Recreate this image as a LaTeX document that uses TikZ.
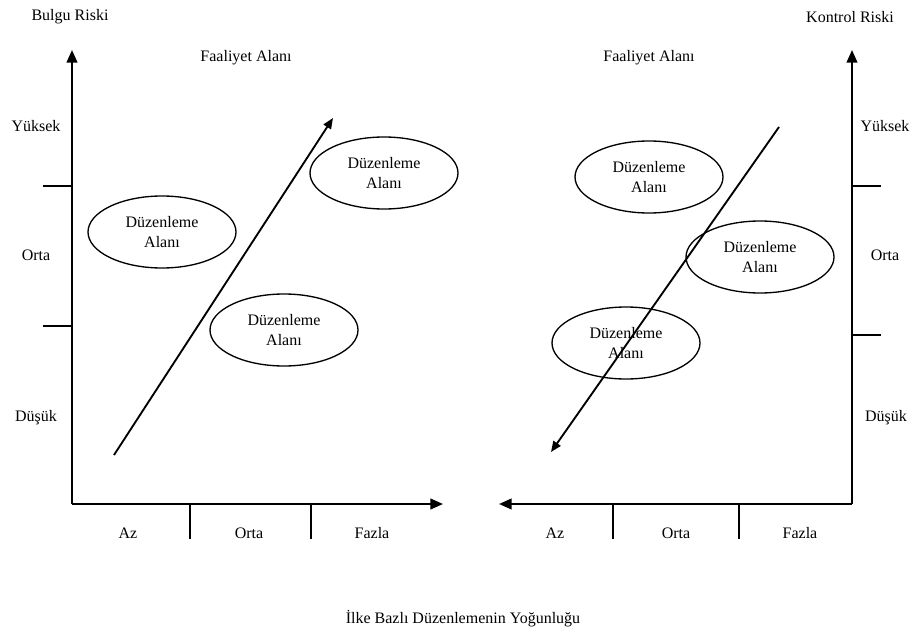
\documentclass[tikz,border=0pt]{standalone}
\usepackage{fontspec}
\setmainfont{Liberation Serif}
\usetikzlibrary{arrows.meta,shapes.geometric}

\tikzset{
  axis/.style={line width=1.6pt,-{Triangle[length=9.5pt,width=8pt]}},
  tick/.style={line width=1.1pt},
  trend/.style={line width=1.4pt,-{Triangle[length=8pt,width=6.5pt]}},
  zone/.style={ellipse,draw,line width=1pt,minimum width=111pt,minimum height=54pt,align=center,inner sep=0pt},
  lbl/.style={inner sep=0.75pt}
}

\begin{document}
\begin{tikzpicture}[x=0.75pt,y=0.75pt,yscale=-1,xscale=1,font=\fontsize{12}{15}\selectfont]
	\useasboundingbox (0,0) rectangle (914,642);
	% left panel
	\coordinate (oL) at (72,504);
	\coordinate (yL) at (72,50);
	\coordinate (xL) at (443,504);
	\draw [axis] (oL) -- (yL) ;
	\draw [axis] (oL) -- (xL) ;
	\draw [tick] (43,186) -- (72,186) ;
	\draw [tick] (43,326) -- (72,326) ;
	\draw [tick] (190,504) -- (190,539) ;
	\draw [tick] (311,504) -- (311,539) ;
	\draw (70,17) node [lbl] (bulgu) {Bulgu Riski};
	\draw (246,58) node [lbl] (faalL) {Faaliyet Alanı};
	\draw (36,126) node [lbl] (yuksekL) {Yüksek};
	\draw (36,255) node [lbl] (ortaL) {Orta};
	\draw (36,418) node [lbl] (dusukL) {Düşük};
	\draw (128,533) node [lbl] (azL) {Az};
	\draw (249,533) node [lbl] (ortaxL) {Orta};
	\draw (372,533) node [lbl] (fazlaL) {Fazla};
	\draw (162,232) node [zone] (zoneLa) {Düzenleme\\Alanı};
	\draw (284,330) node [zone] (zoneLb) {Düzenleme\\Alanı};
	\draw (384,173) node [zone] (zoneLc) {Düzenleme\\Alanı};
	\coordinate (trendLs) at (114,455);
	\coordinate (trendLe) at (333,118);
	\draw [trend] (trendLs) -- (trendLe) ;
	% right panel
	\coordinate (oR) at (852,504);
	\coordinate (yR) at (852,50);
	\coordinate (xR) at (499,504);
	\draw [axis] (oR) -- (yR) ;
	\draw [axis] (oR) -- (xR) ;
	\draw [tick] (852,186) -- (881,186) ;
	\draw [tick] (852,335) -- (881,335) ;
	\draw [tick] (613,504) -- (613,539) ;
	\draw [tick] (739,504) -- (739,539) ;
	\draw (850,17) node [lbl] (kontrol) {Kontrol Riski};
	\draw (649,58) node [lbl] (faalR) {Faaliyet Alanı};
	\draw (885,126) node [lbl] (yuksekR) {Yüksek};
	\draw (885,255) node [lbl] (ortaR) {Orta};
	\draw (886,418) node [lbl] (dusukR) {Düşük};
	\draw (555,533) node [lbl] (azR) {Az};
	\draw (676,533) node [lbl] (ortaxR) {Orta};
	\draw (800,533) node [lbl] (fazlaR) {Fazla};
	\draw (649,177) node [zone] (zoneRa) {Düzenleme\\Alanı};
	\draw (760,257) node [zone] (zoneRb) {Düzenleme\\Alanı};
	\draw (626,343) node [zone] (zoneRc) {Düzenleme\\Alanı};
	\coordinate (trendRs) at (779,127);
	\coordinate (trendRe) at (551,452);
	\draw [trend] (trendRs) -- (trendRe) ;
	% title
	\draw (463,619) node [lbl] (title) {İlke Bazlı Düzenlemenin Yoğunluğu};
\end{tikzpicture}
\end{document}
